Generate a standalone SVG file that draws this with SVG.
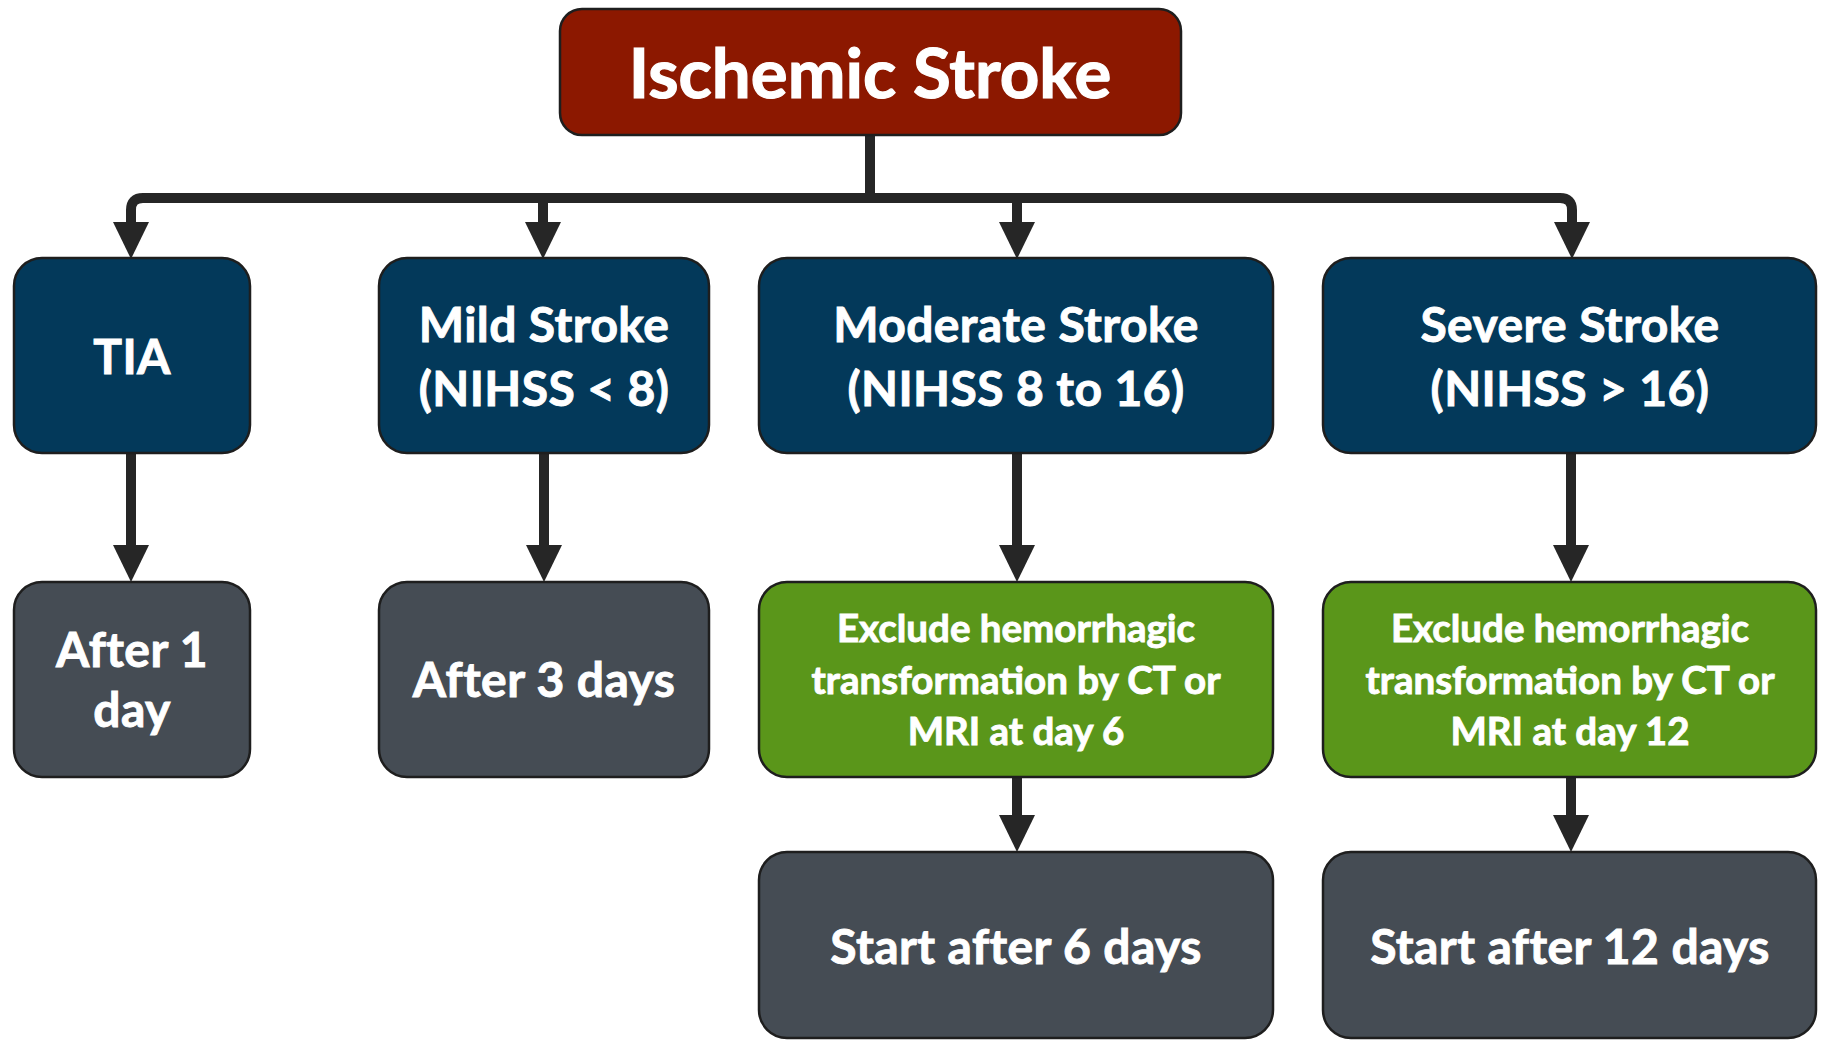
<svg xmlns="http://www.w3.org/2000/svg" width="1823" height="1042" viewBox="0 0 1823 1042">
<style>
  .box { stroke: #1e1e1e; stroke-width: 2.5; }
  .red { fill: #8c1800; }
  .navy { fill: #03395a; }
  .gray { fill: #454c54; }
  .green { fill: #5a961a; }
  text { font-family: Lato, "Open Sans", "Liberation Sans", sans-serif; font-weight: bold; fill: #ffffff; stroke: #ffffff; stroke-width: 0.9; text-anchor: middle; }
  .t1 { font-size: 48px; letter-spacing: 0.4px; }
  .t2 { font-size: 38.5px; }
  .title { font-size: 69px; stroke-width: 1.2; }
  .conn { fill: none; stroke: #262626; stroke-width: 10; stroke-linejoin: round; }
</style>
<defs>
  <marker id="ah" markerUnits="userSpaceOnUse" markerWidth="38" markerHeight="36" refX="0" refY="18" orient="auto">
    <path d="M0,0 L37,18 L0,36 z" fill="#262626"/>
  </marker>
  <marker id="ahs" markerUnits="userSpaceOnUse" markerWidth="38" markerHeight="36" refX="0" refY="18" orient="auto-start-reverse">
    <path d="M0,0 L37,18 L0,36 z" fill="#262626"/>
  </marker>
</defs>
<rect width="1823" height="1042" fill="#ffffff"/>
<g id="connectors">
  <path class="conn" d="M870,135 V198"/>
  <path class="conn" d="M131,222 V210 Q131,198 143,198 H1560 Q1572,198 1572,210 V222" marker-start="url(#ahs)" marker-end="url(#ah)"/>
  <path class="conn" d="M543,198 V222" marker-end="url(#ah)"/>
  <path class="conn" d="M1017,198 V222" marker-end="url(#ah)"/>
  <path class="conn" d="M131,453 V545" marker-end="url(#ah)"/>
  <path class="conn" d="M544,453 V545" marker-end="url(#ah)"/>
  <path class="conn" d="M1017,453 V545" marker-end="url(#ah)"/>
  <path class="conn" d="M1571,453 V545" marker-end="url(#ah)"/>
  <path class="conn" d="M1017,777 V815" marker-end="url(#ah)"/>
  <path class="conn" d="M1571,777 V815" marker-end="url(#ah)"/>
</g>
<g id="ischemic-stroke">
  <rect class="box red" x="560" y="9" width="621" height="126" rx="22"/>
  <text class="title" x="870" y="98">Ischemic Stroke</text>
</g>
<g id="tia">
  <rect class="box navy" x="14" y="258" width="236" height="195" rx="28"/>
  <text class="t1" x="132" y="374">TIA</text>
</g>
<g id="mild-stroke">
  <rect class="box navy" x="379" y="258" width="330" height="195" rx="28"/>
  <text class="t1" x="544" y="342">Mild Stroke</text>
  <text class="t1" x="544" y="406">(NIHSS &lt; 8)</text>
</g>
<g id="moderate-stroke">
  <rect class="box navy" x="759" y="258" width="514" height="195" rx="28"/>
  <text class="t1" x="1016" y="342">Moderate Stroke</text>
  <text class="t1" x="1016" y="406">(NIHSS 8 to 16)</text>
</g>
<g id="severe-stroke">
  <rect class="box navy" x="1323" y="258" width="493" height="195" rx="28"/>
  <text class="t1" x="1570" y="342">Severe Stroke</text>
  <text class="t1" x="1570" y="406">(NIHSS &gt; 16)</text>
</g>
<g id="after-1-day">
  <rect class="box gray" x="14" y="582" width="236" height="195" rx="28"/>
  <text class="t1" x="132" y="667">After 1</text>
  <text class="t1" x="132" y="727">day</text>
</g>
<g id="after-3-days">
  <rect class="box gray" x="379" y="582" width="330" height="195" rx="28"/>
  <text class="t1" x="544" y="697">After 3 days</text>
</g>
<g id="exclude-day-6">
  <rect class="box green" x="759" y="582" width="514" height="195" rx="28"/>
  <text class="t2" x="1016" y="642">Exclude hemorrhagic</text>
  <text class="t2" x="1016" y="694">transformation by CT or</text>
  <text class="t2" x="1016" y="745">MRI at day 6</text>
</g>
<g id="exclude-day-12">
  <rect class="box green" x="1323" y="582" width="493" height="195" rx="28"/>
  <text class="t2" x="1570" y="642">Exclude hemorrhagic</text>
  <text class="t2" x="1570" y="694">transformation by CT or</text>
  <text class="t2" x="1570" y="745">MRI at day 12</text>
</g>
<g id="start-after-6-days">
  <rect class="box gray" x="759" y="852" width="514" height="186" rx="28"/>
  <text class="t1" x="1016" y="964">Start after 6 days</text>
</g>
<g id="start-after-12-days">
  <rect class="box gray" x="1323" y="852" width="493" height="186" rx="28"/>
  <text class="t1" x="1570" y="964">Start after 12 days</text>
</g>
</svg>
